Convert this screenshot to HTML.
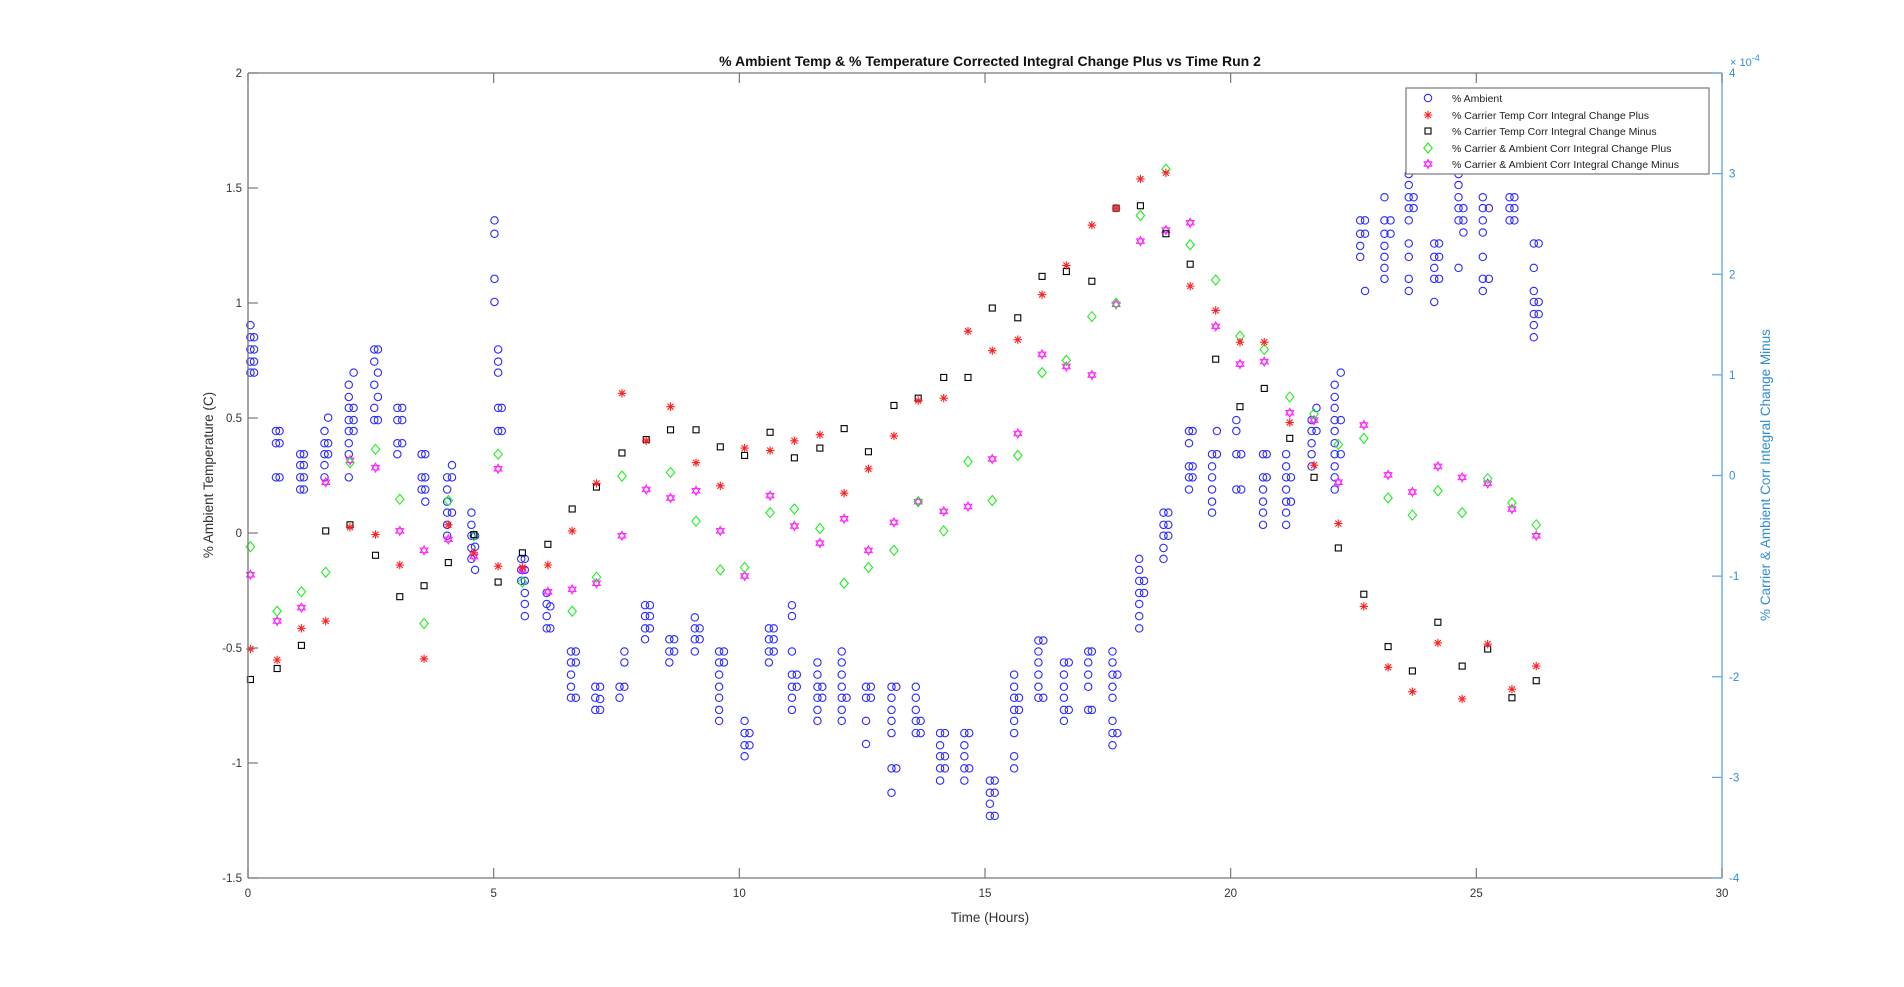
<!DOCTYPE html>
<html><head><meta charset="utf-8"><style>
html,body{margin:0;padding:0;background:#fff;width:1904px;height:987px;overflow:hidden}
svg{display:block;font-family:"Liberation Sans",Arial,sans-serif}
</style></head><body>
<svg id="s" width="1904" height="987" viewBox="0 0 1904 987" xmlns="http://www.w3.org/2000/svg">
<rect width="1904" height="987" fill="#fff"/>
<g id="pts"></g>
<line x1="248" y1="73" x2="1722" y2="73" stroke="#777" stroke-width="1.3"/>
<line x1="248" y1="878" x2="1722" y2="878" stroke="#777" stroke-width="1.3"/>
<line x1="248" y1="73" x2="248" y2="878" stroke="#777" stroke-width="1.3"/>
<line x1="1722" y1="73" x2="1722" y2="878" stroke="#5aa6dc" stroke-width="1.3"/>
<g id="ticks"></g>
<text x="990" y="66" font-size="14" font-weight="bold" text-anchor="middle" fill="#111">% Ambient Temp &amp; % Temperature Corrected Integral Change Plus vs Time Run 2</text>
<text x="990" y="922" font-size="13.5" text-anchor="middle" fill="#333">Time (Hours)</text>
<text transform="translate(213,475) rotate(-90)" font-size="13.5" text-anchor="middle" fill="#333">% Ambient Temperature (C)</text>
<text transform="translate(1770,475) rotate(-90)" font-size="13.5" text-anchor="middle" fill="#2f8fd0">% Carrier &amp; Ambient Corr Integral Change Minus</text>
<text x="1730" y="66" font-size="11" fill="#2f8fd0">× 10<tspan dy="-5" font-size="9">-4</tspan></text>
<rect x="1406" y="88" width="303" height="86" fill="#fff" stroke="#777" stroke-width="1.2"/>
<g font-size="10.5" fill="#222">
<text x="1452" y="102">% Ambient</text>
<text x="1452" y="119">% Carrier Temp Corr Integral Change Plus</text>
<text x="1452" y="135">% Carrier Temp Corr Integral Change Minus</text>
<text x="1452" y="152">% Carrier &amp; Ambient Corr Integral Change Plus</text>
<text x="1452" y="168">% Carrier &amp; Ambient Corr Integral Change Minus</text>
</g>
<g id="leg"></g>
</svg>
<script>
var NS="http://www.w3.org/2000/svg";
function el(p,t,a){var e=document.createElementNS(NS,t);for(var k in a)e.setAttribute(k,a[k]);p.appendChild(e);return e;}
var g=document.getElementById('pts'),tk=document.getElementById('ticks'),lg=document.getElementById('leg');
function RX(d){return 248+(d-204)*1474/1214;}
function RY(d){return 73+(d-61)*805/661;}
function circ(p,x,y){el(p,'circle',{cx:x,cy:y,r:3.7,fill:'none',stroke:'#2a2aff','stroke-width':1.1});}
function star(p,x,y){var s=4.2,c='#ff2020',q=3;el(p,'path',{d:'M'+(x-s)+' '+y+'H'+(x+s)+'M'+x+' '+(y-s)+'V'+(y+s)+'M'+(x-q)+' '+(y-q)+'L'+(x+q)+' '+(y+q)+'M'+(x-q)+' '+(y+q)+'L'+(x+q)+' '+(y-q),stroke:c,'stroke-width':1.1,fill:'none'});}
function sq(p,x,y){el(p,'rect',{x:x-3,y:y-3,width:6,height:6,fill:'none',stroke:'#000','stroke-width':1.1});}
function dia(p,x,y){el(p,'path',{d:'M'+x+' '+(y-5)+'L'+(x+4.2)+' '+y+'L'+x+' '+(y+5)+'L'+(x-4.2)+' '+y+'Z',fill:'none',stroke:'#22ee22','stroke-width':1.1});}
function hex(p,x,y){var r=4.5,a='',b='';for(var i=0;i<3;i++){var t=Math.PI/2+i*2*Math.PI/3;a+=(i?'L':'M')+(x+r*Math.cos(t))+' '+(y-r*Math.sin(t));t+=Math.PI;b+=(i?'L':'M')+(x+r*Math.cos(t))+' '+(y-r*Math.sin(t));}
 el(p,'path',{d:a+'Z'+b+'Z',fill:'none',stroke:'#ff22ff','stroke-width':1});}
var cols=[206,228,248,268,288,309,329,349,369,390,410,430,451,471,491,512,532,552,573,593,613,634,654,675,695,715,736,756,777,797,817,838,858,878,899,919,939,960,980,1001,1021,1041,1062,1082,1102,1123,1143,1163,1184,1204,1225,1245,1265];
var red=[534,543,517,511,434,440,465,542,432,455,466,467,465,437,398,324,363,335,381,400,369,371,363,358,406,386,359,330,328,273,289,280,243,219,186,172,148,143,236,256,282,282,348,383,431,499,549,569,529,575,530,567,548];
var blk=[559,550,531,437,432,457,491,482,463,440,479,455,448,419,401,373,362,354,354,368,375,356,377,369,353,372,334,328,311,311,254,262,228,224,232,172,170,193,218,296,335,320,361,393,451,489,532,552,512,548,534,574,560];
var grn=[450,503,487,471,381,370,411,513,412,441,374,479,null,503,475,392,null,389,429,469,467,422,419,435,480,467,453,413,437,380,412,375,307,297,261,250,178,140,202,231,277,288,327,341,366,361,410,424,404,422,394,414,432];
var mag=[473,511,500,397,379,385,437,453,444,458,386,469,487,485,480,441,403,410,404,437,474,408,433,447,427,453,430,413,421,417,378,357,292,302,309,251,199,190,184,269,300,298,340,346,397,350,391,405,384,393,398,419,441];
var blue=[[206,[268,278,288,298,307]],[209,[307,288,278,298]],[227,[355,365,393]],[230,[365,393,355]],[247,[374,383,393,403]],[250,[403,383,393,374]],[267,[355,365,374,383,393]],[270,[365,374,344]],[287,[317,327,336,346,355,365,374,393]],[291,[307,336,346,355]],[308,[288,298,317,336,346]],[311,[307,327,288,346]],[327,[336,346,365,374]],[331,[336,346,365]],[347,[374,393,403]],[350,[393,403,413,374]],[368,[413,422,432,441,403,393]],[372,[383,393,422]],[388,[422,432,441,451,460]],[391,[469,450,441]],[407,[182,193,230,249]],[410,[288,298,307,336,355]],[413,[355,336]],[429,[460,469,478]],[432,[460,469,478,488,497,507]],[450,[488,497,507,517]],[453,[499,517]],[470,[536,545,555,565,574]],[474,[574,545,536]],[490,[565,574,584]],[494,[565,575,584]],[510,[565,574]],[514,[536,545,565]],[531,[498,507,517,526]],[535,[507,498,517]],[551,[526,536,545]],[555,[526,536]],[572,[508,517,526,536]],[576,[526,517]],[592,[536,545,555,565,574,584,593]],[596,[545,536]],[613,[593,603,613,622]],[617,[613,603]],[633,[517,526,536,545]],[637,[526,536,517]],[652,[498,507,536,555,565,574,584]],[656,[555,565]],[673,[545,555,565,574,584,593]],[677,[574,565]],[693,[536,545,555,565,574,584,593]],[697,[574]],[713,[612,565,574,593]],[717,[565,574]],[734,[565,574,584,593,603,632,652]],[738,[632,565]],[754,[565,574,584,593,603]],[758,[593,603]],[774,[603,613,622,632,642]],[778,[622,632,603]],[794,[603,613,622,632,642]],[798,[632,603]],[815,[642,652,661,671]],[819,[671,652,642]],[835,[555,565,574,584,593,603,622,632]],[839,[584,574]],[855,[527,536,545,555,565,574]],[859,[527,574]],[876,[545,555,565,574,584,593]],[880,[584,545]],[896,[536,545,555,565,584]],[899,[584,536]],[916,[536,545,555,565,574,593,603,613]],[920,[603,555]],[938,[460,469,478,488,497,507,517]],[942,[488,478]],[958,[422,432,441,451,460]],[962,[441,422,432]],[979,[355,365,384,393,403]],[982,[384,393,355]],[998,[384,393,403,413,422,374]],[1002,[355,374]],[1018,[346,355,374,403]],[1022,[374,403]],[1040,[374,393,403,413,422,432]],[1043,[374,393]],[1059,[374,384,393,403,413,422,432]],[1063,[413,393]],[1080,[355,365,374,384,346]],[1084,[336,355]],[1099,[317,327,336,346,355,365,374,384,393,403]],[1104,[307,374,346]],[1120,[182,193,203,212]],[1124,[182,193,240]],[1140,[163,182,193,203,212,221,230]],[1145,[193,182]],[1160,[144,153,163,172,182,201,212,230,240]],[1164,[163,172]],[1181,[201,212,221,230,249]],[1185,[230,201,212]],[1201,[144,153,163,172,182,221]],[1205,[182,192,172]],[1221,[163,172,182,192,212,230,240]],[1226,[230,172]],[1243,[163,172,182]],[1247,[182,172,163]],[1263,[201,221,240,249,259,268,278]],[1267,[259,201,249]]];
blue.forEach(function(c){c[1].forEach(function(y){circ(g,RX(c[0]),RY(y));});});
cols.forEach(function(x,i){var X=RX(x);
 if(mag[i]!=null)hex(g,X,RY(mag[i]));
 if(grn[i]!=null)dia(g,X,RY(grn[i]));
 if(blk[i]!=null)sq(g,X,RY(blk[i]));
 if(red[i]!=null)star(g,X,RY(red[i]));});
for(var h=0;h<=30;h+=5){var x=248+h*1474/30;
 el(tk,'line',{x1:x,y1:878,x2:x,y2:868,stroke:'#777','stroke-width':1.2});
 el(tk,'line',{x1:x,y1:73,x2:x,y2:83,stroke:'#777','stroke-width':1.2});
 var t=el(tk,'text',{x:x,y:897,'font-size':11.5,'text-anchor':'middle',fill:'#333'});t.textContent=h;}
for(var v=-1.5;v<=2.001;v+=0.5){var y=878-(v+1.5)*805/3.5;
 el(tk,'line',{x1:248,y1:y,x2:258,y2:y,stroke:'#777','stroke-width':1.2});
 var t=el(tk,'text',{x:242,y:y+4,'font-size':11.5,'text-anchor':'end',fill:'#333'});t.textContent=(Math.round(v*10)/10).toString();}
for(var r=-4;r<=4;r++){var y=878-(r+4)*805/8;
 el(tk,'line',{x1:1712,y1:y,x2:1722,y2:y,stroke:'#5aa6dc','stroke-width':1.2});
 var t=el(tk,'text',{x:1729,y:y+4,'font-size':11.5,fill:'#2f8fd0'});t.textContent=r;}
circ(lg,1428,98);star(lg,1428,115);sq(lg,1428,131);dia(lg,1428,148);hex(lg,1428,164);
</script>
</body></html>
